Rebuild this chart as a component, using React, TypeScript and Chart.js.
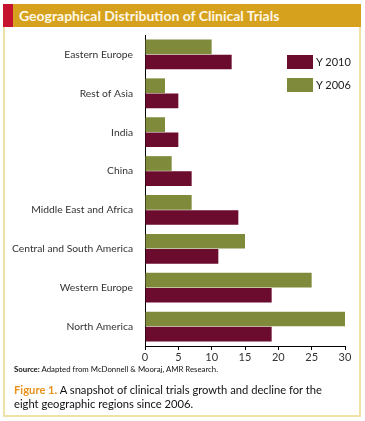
import React, { useEffect, useRef } from "react";
import { Chart, registerables } from "chart.js";

Chart.register(...registerables);

const regions = [
  "Eastern Europe",
  "Rest of Asia",
  "India",
  "China",
  "Middle East and Africa",
  "Central and South America",
  "Western Europe",
  "North America",
];
const y2006 = [10, 3, 3, 4, 7, 15, 25, 30];
const y2010 = [13, 5, 5, 7, 14, 11, 19, 19];
const xTicks = [0, 5, 10, 15, 20, 25, 30];

const MAROON = "#6b0b2d";
const GREEN = "#7f8b3b";

export default function App() {
  const ref = useRef<HTMLCanvasElement | null>(null);

  useEffect(() => {
    if (!ref.current) return;
    const chart = new Chart(ref.current, {
      type: "bar",
      data: {
        labels: regions,
        datasets: [
          { label: "Y 2006", data: y2006, backgroundColor: GREEN, barPercentage: 0.97, categoryPercentage: 0.78 },
          { label: "Y 2010", data: y2010, backgroundColor: MAROON, barPercentage: 0.97, categoryPercentage: 0.78 },
        ],
      },
      options: {
        indexAxis: "y",
        animation: false,
        responsive: false,
        maintainAspectRatio: false,
        layout: { padding: { top: 35, right: 20, left: 0, bottom: 0 } },
        plugins: { legend: { display: false }, tooltip: { enabled: false } },
        scales: {
          x: {
            min: 0,
            max: 30,
            afterBuildTicks: (s: any) => {
              s.ticks = xTicks.map((v) => ({ value: v }));
            },
            afterFit: (s: any) => {
              s.height = 24;
            },
            grid: { display: true, drawOnChartArea: false, drawTicks: true, tickLength: 4, color: "#000" },
            border: { display: true, color: "#000", width: 1 },
            ticks: { padding: 1, color: "#333", font: { family: "Lato", size: 11 } },
          },
          y: {
            afterFit: (s: any) => {
              s.width = 145;
            },
            grid: { display: false },
            border: { display: true, color: "#000", width: 1 },
            ticks: { padding: 4, color: "#333", font: { family: "Lato", size: 10.3 } },
          },
        },
      },
    });
    return () => chart.destroy();
  }, []);

  return (
    <div style={{ position: "absolute", left: 0, top: 0, width: 365, height: 421, background: "#fff", overflow: "hidden" }}>
      <div
        style={{
          position: "absolute",
          left: 3,
          top: 4,
          width: 354,
          height: 411,
          borderLeft: "2px solid #efe2a6",
          borderRight: "2px solid #efe2a6",
          borderBottom: "2px solid #efe2a6",
        }}
      />
      <div style={{ position: "absolute", left: 3, top: 4, width: 358, height: 23, background: "#d6a11d" }} />
      <div style={{ position: "absolute", left: 3, top: 4, width: 10, height: 23, background: "#c6132f" }} />
      <div
        style={{
          position: "absolute",
          left: 19,
          top: 4,
          height: 23,
          lineHeight: "23px",
          color: "#fff8e6",
          fontFamily: "Lato",
          fontWeight: 700,
          fontSize: 14,
          whiteSpace: "nowrap",
        }}
      >
        Geographical Distribution of Clinical Trials
      </div>
      <canvas ref={ref} width={365} height={370} style={{ position: "absolute", left: 0, top: 0, width: 365, height: 370 }} />
      <div style={{ position: "absolute", left: 287, top: 55, width: 26, height: 14, background: MAROON }} />
      <div style={{ position: "absolute", left: 287, top: 78, width: 26, height: 14, background: GREEN }} />
      <div style={{ position: "absolute", left: 316, top: 54, lineHeight: "16px", fontFamily: "Lato", fontSize: 11, color: "#222", whiteSpace: "nowrap" }}>Y 2010</div>
      <div style={{ position: "absolute", left: 316, top: 77, lineHeight: "16px", fontFamily: "Lato", fontSize: 11, color: "#222", whiteSpace: "nowrap" }}>Y 2006</div>
      <div style={{ position: "absolute", left: 14, top: 364, lineHeight: "10px", fontFamily: "Lato", fontSize: 7.8, color: "#111", whiteSpace: "nowrap" }}>
        <b>Source:</b> Adapted from McDonnell &amp; Mooraj, AMR Research.
      </div>
      <div style={{ position: "absolute", left: 14, top: 383, lineHeight: "14px", fontFamily: "Lato", fontSize: 11.2, color: "#111", whiteSpace: "nowrap" }}>
        <b style={{ color: "#e8921c" }}>Figure 1.</b> A snapshot of clinical trials growth and decline for the
        <br />
        eight geographic regions since 2006.
      </div>
    </div>
  );
}
